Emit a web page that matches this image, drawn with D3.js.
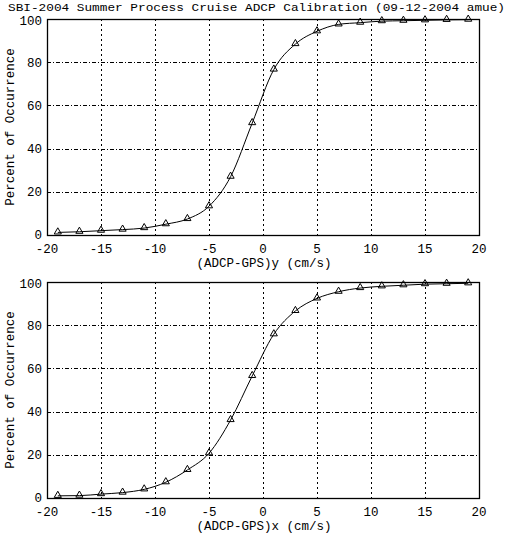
<!DOCTYPE html>
<html><head><meta charset="utf-8">
<script src="https://cdn.jsdelivr.net/npm/d3@7"></script>
<style>body{margin:0;background:#fff}svg{display:block}text{font-family:"Liberation Mono","DejaVu Sans Mono",monospace;fill:#000}</style>
</head><body>
<script>
const titleText = "SBI-2004 Summer Process Cruise ADCP Calibration (09-12-2004 amue)";
const yLabel = "Percent of Occurrence";
const xLabels = ["(ADCP-GPS)y (cm/s)", "(ADCP-GPS)x (cm/s)"];
const xValues = [-19,-17,-15,-13,-11,-9,-7,-5,-3,-1,1,3,5,7,9,11,13,15,17,19];
const pctY = [1.2,1.5,2,2.5,3.2,5,7.4,13.3,27,51.8,76.6,88.4,94.3,97.5,98.3,99,99.2,99.4,99.6,99.7];
const pctX = [1,1.1,1.8,2.5,4,7.3,13,20.7,36.1,56.5,75.8,86.6,92.4,95.5,97.2,98,98.5,99,99.2,99.4];
const xTicks = [-20,-15,-10,-5,0,5,10,15,20];
const yTicks = [0,20,40,60,80,100];

const W = 512, H = 536;
const svg = d3.select("body").append("svg").attr("width", W).attr("height", H);

svg.append("text").attr("x", 8).attr("y", 10.5).attr("font-size", 11.8)
  .attr("textLength", 497).attr("lengthAdjust", "spacingAndGlyphs").text(titleText);

const panels = [
  {top: 19, data: pctY, label: xLabels[0]},
  {top: 282, data: pctX, label: xLabels[1]}
];
const left = 47, right = 479, ph = 216;

panels.forEach(p => {
  const x = d3.scaleLinear().domain([-20, 20]).range([left, right]);
  const y = d3.scaleLinear().domain([0, 100]).range([p.top + ph, p.top]);
  const g = svg.append("g");
  g.selectAll(".vg").data(xTicks.slice(1, -1)).join("line")
    .attr("x1", d => Math.round(x(d)) + 0.5).attr("x2", d => Math.round(x(d)) + 0.5)
    .attr("y1", p.top).attr("y2", p.top + ph)
    .attr("stroke", "#000").attr("stroke-width", 1).attr("stroke-dasharray", "2,3");
  g.selectAll(".hg").data(yTicks.slice(1, -1)).join("line")
    .attr("y1", d => Math.round(y(d)) + 0.5).attr("y2", d => Math.round(y(d)) + 0.5)
    .attr("x1", left).attr("x2", right)
    .attr("stroke", "#000").attr("stroke-width", 1).attr("stroke-dasharray", "4,2,1,2");
  g.append("rect").attr("x", left + 0.5).attr("y", p.top + 0.5)
    .attr("width", right - left).attr("height", ph)
    .attr("fill", "none").attr("stroke", "#000").attr("stroke-width", 1.3);
  g.selectAll(".xt").data(xTicks).join("text")
    .attr("x", d => x(d)).attr("y", p.top + ph + 18)
    .attr("text-anchor", "middle").attr("font-size", 12.5).text(d => d);
  g.selectAll(".yt").data(yTicks).join("text")
    .attr("x", left - 5).attr("y", d => y(d) + (d === 0 ? 3.5 : d === 100 ? 5.5 : 4.5))
    .attr("text-anchor", "end").attr("font-size", 12.5).text(d => d);
  g.append("text").attr("x", (left + right) / 2 + 1).attr("y", p.top + ph + 32)
    .attr("text-anchor", "middle").attr("font-size", 12.5).text(p.label);
  g.append("text").attr("transform", `translate(14,${p.top + ph / 2}) rotate(-90)`)
    .attr("text-anchor", "middle").attr("font-size", 12.5).text(yLabel);
  const pts = xValues.map((v, i) => [v, p.data[i]]);
  g.append("path").datum(pts)
    .attr("d", d3.line().x(d => x(d[0])).y(d => y(d[1])).curve(d3.curveMonotoneX))
    .attr("fill", "none").attr("stroke", "#000").attr("stroke-width", 1);
  g.selectAll(".m").data(pts).join("path")
    .attr("transform", d => `translate(${x(d[0])},${y(d[1]) - 0.5})`)
    .attr("d", d3.symbol().type(d3.symbolTriangle).size(22))
    .attr("fill", "none").attr("stroke", "#000").attr("stroke-width", 1);
});
</script>
</body></html>
